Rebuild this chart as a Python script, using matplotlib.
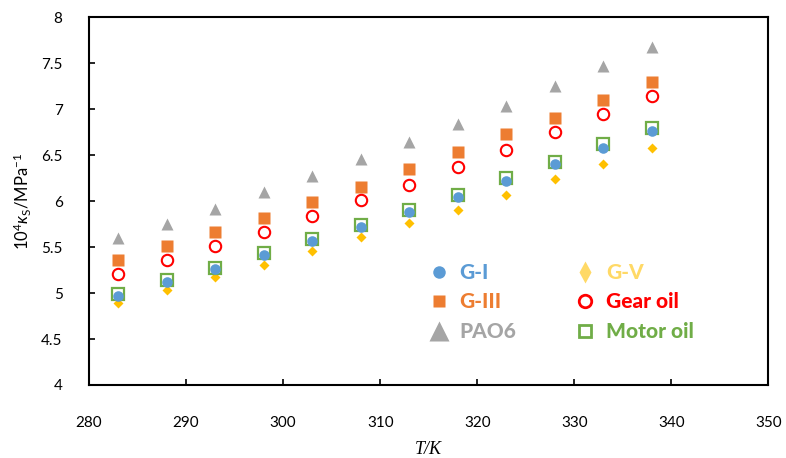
"""Isentropic compressibility of lubricant base oils vs temperature"""

import matplotlib
matplotlib.use("Agg")
import matplotlib.pyplot as plt
from matplotlib.lines import Line2D

plt.rcParams["font.family"] = ["Lato", "DejaVu Sans"]
plt.rcParams["mathtext.fontset"] = "custom"
plt.rcParams["mathtext.rm"] = "Lato"
plt.rcParams["mathtext.it"] = "Lato:italic"

# Temperature (K)
T = [283, 288, 293, 298, 303, 308, 313, 318, 323, 328, 333, 338]

# 10^4 kappa_S (MPa^-1)
G_I = [4.97, 5.12, 5.26, 5.42, 5.57, 5.72, 5.88, 6.05, 6.22, 6.40, 6.58, 6.77]
G_III = [5.36, 5.51, 5.66, 5.82, 5.99, 6.16, 6.35, 6.54, 6.73, 6.91, 7.10, 7.30]
PAO6 = [5.60, 5.75, 5.92, 6.10, 6.27, 6.46, 6.65, 6.84, 7.04, 7.25, 7.47, 7.68]
G_V = [4.89, 5.03, 5.18, 5.31, 5.46, 5.61, 5.76, 5.91, 6.07, 6.24, 6.41, 6.58]
GEAR_OIL = [5.21, 5.36, 5.51, 5.67, 5.84, 6.01, 6.18, 6.37, 6.56, 6.75, 6.95, 7.15]
MOTOR_OIL = [4.99, 5.14, 5.27, 5.44, 5.59, 5.74, 5.91, 6.07, 6.25, 6.43, 6.62, 6.80]

LABELS = ["G-I", "G-III", "PAO6", "G-V", "Gear oil", "Motor oil"]

C_BLUE = "#5B9BD5"
C_ORANGE = "#ED7D31"
C_GRAY = "#A5A5A5"
C_YELLOW = "#FFC000"
C_YELLOW_LT = "#FFD966"
C_RED = "#FF0000"
C_GREEN = "#70AD47"

DPI = 100
fig = plt.figure(figsize=(786 / DPI, 458 / DPI), dpi=DPI)
ax = fig.add_axes([0.1132, 0.1594, 0.8645, 0.8024])

# -----------------------------------------------------------------------------
# Data series
ax.plot(T, G_V, "D", ms=5.6, color=C_YELLOW, mec="none", zorder=3)
ax.plot(T, MOTOR_OIL, "s", ms=8, mfc="none", mec=C_GREEN, mew=1.6, zorder=3)
ax.plot(T, G_I, "o", ms=7.6, color=C_BLUE, mec="none", zorder=4)
ax.plot(T, G_III, "s", ms=8.3, color=C_ORANGE, mec="none", zorder=3)
ax.plot(T, GEAR_OIL, "o", ms=8.2, mfc="none", mec=C_RED, mew=1.5, zorder=3)
ax.plot(T, PAO6, "^", ms=8.6, color=C_GRAY, mec="none", zorder=3)

ax.set_xlim(280, 350)
ax.set_ylim(4, 8)
ax.set_xticks(range(280, 351, 10))
ax.set_yticks([4, 4.5, 5, 5.5, 6, 6.5, 7, 7.5, 8])
ax.set_yticklabels(["4", "4.5", "5", "5.5", "6", "6.5", "7", "7.5", "8"])

for side in ["left", "right", "top", "bottom"]:
    ax.spines[side].set_linewidth(1.5)
ax.tick_params(direction="in", length=4.5, width=1.2, labelsize=11,
               colors="black")
ax.tick_params(axis="x", pad=22)
ax.tick_params(axis="y", pad=19)

ax.set_ylabel(r"10$^4$$\kappa_\mathrm{S}$/MPa$^{-1}$", fontsize=12, labelpad=5)
ax.set_xlabel("T/K", fontsize=13, family="Liberation Serif", style="italic",
              labelpad=8)

# -----------------------------------------------------------------------------
# Legend
handles = [
    Line2D([], [], ls="none", marker="o", ms=9, color=C_BLUE, mec="none"),
    Line2D([], [], ls="none", marker="s", ms=9, color=C_ORANGE, mec="none"),
    Line2D([], [], ls="none", marker="^", ms=15, color=C_GRAY, mec="none"),
    Line2D([], [], ls="none", marker="d", ms=11, color=C_YELLOW_LT,
           mec="none"),
    Line2D([], [], ls="none", marker="o", ms=9, mfc="none", mec=C_RED,
           mew=2),
    Line2D([], [], ls="none", marker="s", ms=8.5, mfc="none", mec=C_GREEN,
           mew=2),
]
leg = ax.legend(handles, LABELS, ncol=2, frameon=False, loc="center",
                bbox_to_anchor=(0.695, 0.226),
                prop={"weight": "black", "size": 15},
                labelcolor=[C_BLUE, C_ORANGE, C_GRAY, C_YELLOW_LT, C_RED,
                            C_GREEN],
                handlelength=1.0, handletextpad=0.5, columnspacing=2.8,
                labelspacing=0.5, borderpad=0.2)

plt.savefig("out.png", dpi=DPI)
